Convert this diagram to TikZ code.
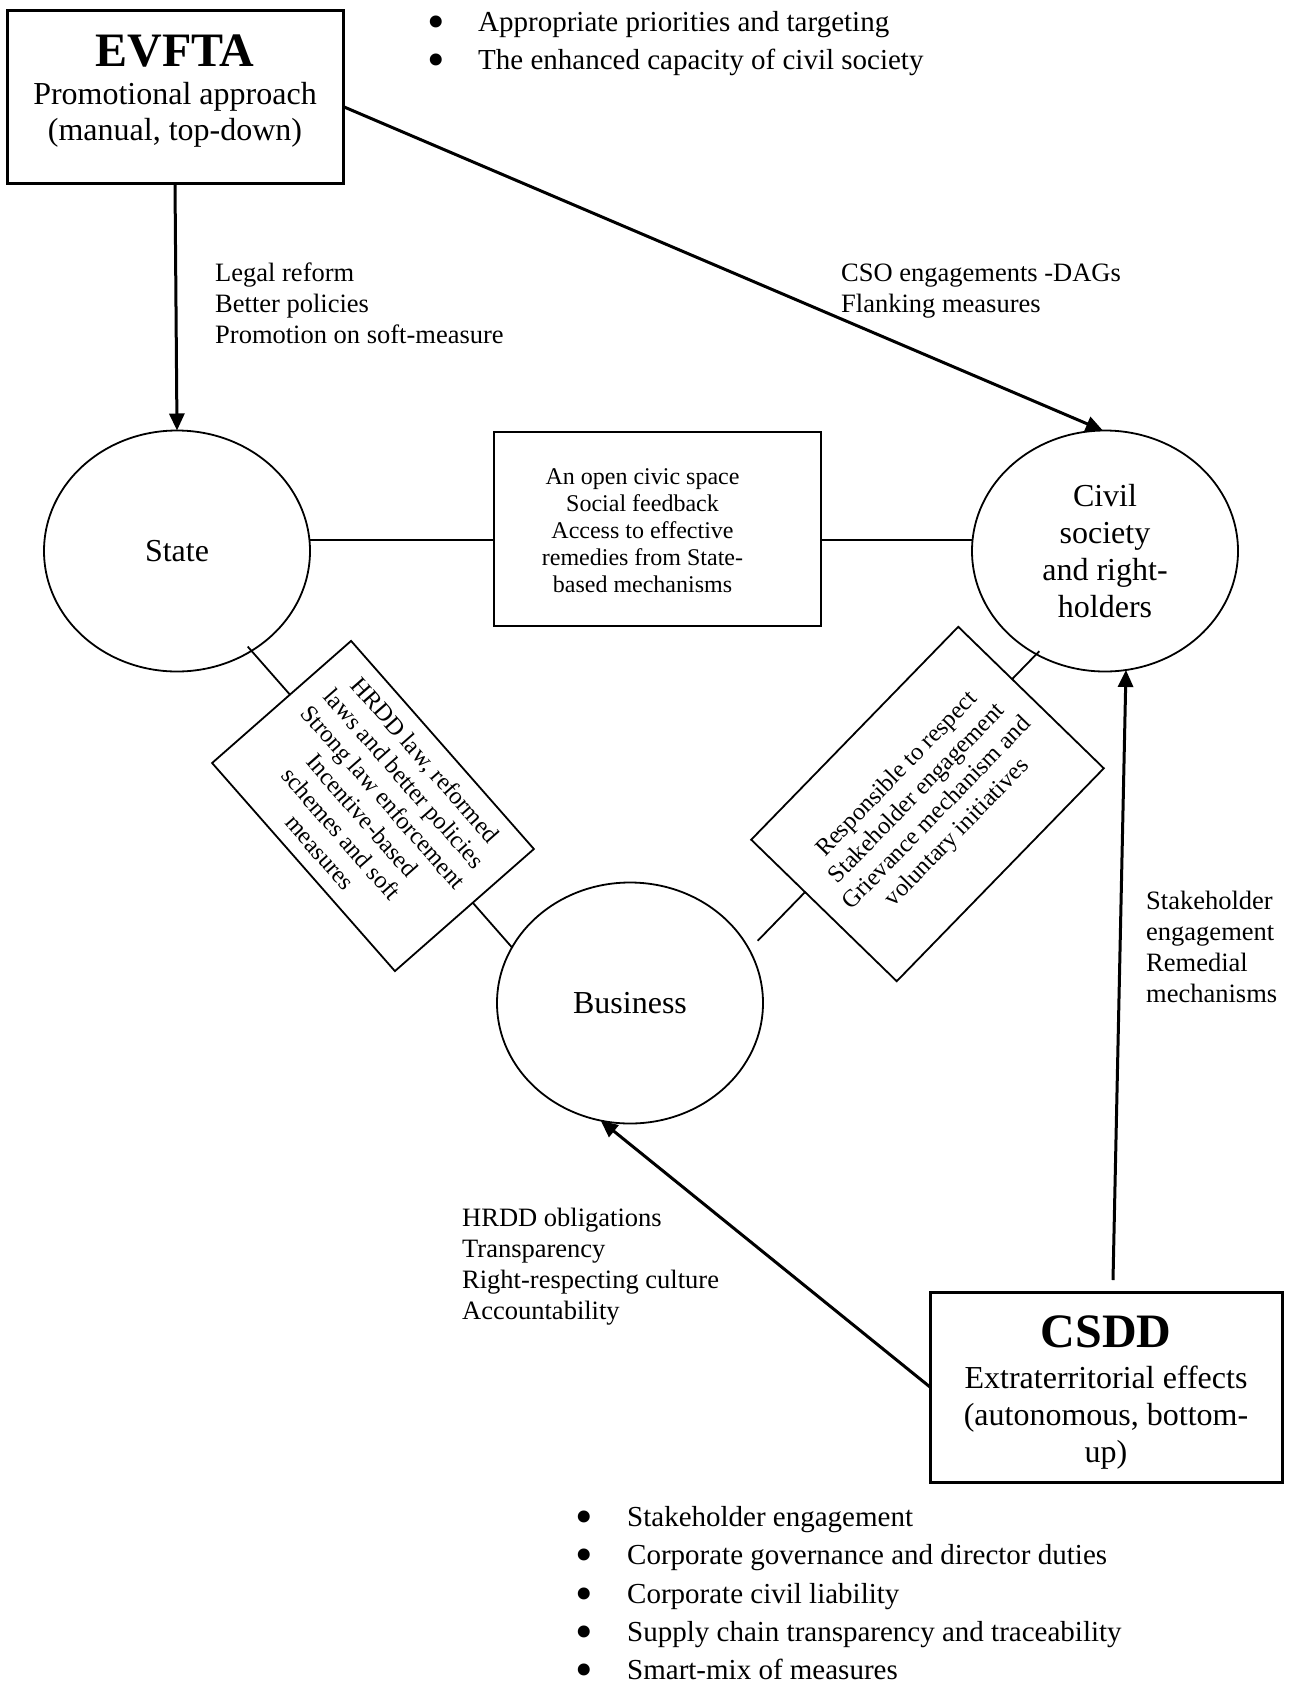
\documentclass[tikz,border=0pt]{standalone}
\usepackage{fontspec}
\setmainfont{Liberation Serif}
\usetikzlibrary{arrows.meta,calc,shapes.geometric}
\begin{document}
\begin{tikzpicture}[x=1pt,y=-1pt,
  thickbox/.style={draw, line width=3pt, rectangle, inner sep=0pt, outer sep=0pt},
  thinbox/.style={draw, line width=1.8pt, rectangle, inner sep=0pt, outer sep=0pt, align=center, fill=white},
  actor/.style={draw, line width=1.8pt, ellipse, minimum width=266pt, minimum height=241pt, inner sep=0pt, outer sep=0pt, align=center, font=\fontsize{32}{37}\selectfont},
  conn/.style={line width=1.8pt},
  arr/.style={line width=3pt, -{Triangle[length=17pt,width=15pt]}},
  lbl/.style={anchor=base west, inner sep=0pt, font=\fontsize{26.5}{31}\selectfont},
  ttl/.style={anchor=base, inner sep=0pt, font=\fontsize{48}{52}\selectfont\bfseries},
  sub/.style={anchor=base, inner sep=0pt, font=\fontsize{32}{37}\selectfont},
  bul/.style={anchor=base, inner sep=0pt, font=\fontsize{50}{50}\selectfont},
  bultxt/.style={anchor=base west, inner sep=0pt, font=\fontsize{29}{37}\selectfont},
  boxtxt/.style={font=\fontsize{24.4}{28}\selectfont}
]
\fill[white] (0,0) rectangle (1288,1684);
\useasboundingbox (0,0) rectangle (1288,1684);

% top box
\node[thickbox, minimum width=336pt, minimum height=173pt] (evfta) at (175,96.5) {};
\node[ttl] (evftaT) at (175,66) {EVFTA};
\node[sub] (evftaS1) at (175,104) {Promotional approach};
\node[sub] (evftaS2) at (175,140) {(manual, top-down)};

% bottom box
\node[thickbox, minimum width=352pt, minimum height=190pt] (csdd) at (1106,1387) {};
\node[ttl] (csddT) at (1106,1347) {CSDD};
\node[sub] (csddS1) at (1106,1388) {Extraterritorial effects};
\node[sub] (csddS2) at (1106,1425) {(autonomous, bottom-};
\node[sub] (csddS3) at (1106,1462) {up)};

% actors
\node[actor] (state) at (177,551) {State};
\node[actor] (civil) at (1105,551) {Civil\\society\\and right-\\holders};
\node[actor] (business) at (630,1003) {Business};

% relation boxes
\node[thinbox, minimum width=327pt, minimum height=194pt] (mid) at (657.5,529) {};
\node[inner sep=0pt, align=center, font=\fontsize{24}{27}\selectfont] (midtxt) at (642.5,531)
  {An open civic space\\Social feedback\\Access to effective\\remedies from State-\\based mechanisms};
\node[thinbox, rotate=-48.7, minimum width=277pt, minimum height=185pt, boxtxt] (lbox) at (373,806)
  {HRDD law, reformed\\laws and better policies\\Strong law enforcement\\Incentive-based\\schemes and soft\\measures};
\node[thinbox, rotate=45.8, minimum width=297pt, minimum height=203pt, boxtxt] (rbox) at (927.5,804)
  {Responsible to respect\\Stakeholder engagement\\Grievance mechanism and\\voluntary initiatives};

% plain connectors
\draw[conn] ($(state.east)+(0,-11)$) -- ($(mid.west |- state.east)+(0,-11)$);
\draw[conn] ($(mid.east |- civil.west)+(0,-11)$) -- ($(civil.west)+(0,-11)$);

\coordinate (lw) at ($(lbox.north west)!0.44!(lbox.south west)$);
\coordinate (le) at ($(lbox.north east)!0.44!(lbox.south east)$);
\draw[conn] (lw) -- ($(lw)!-64pt!(le)$);
\draw[conn] (le) -- ($(le)!-60pt!(lw)$);

\coordinate (rw) at ($(rbox.north west)!0.37!(rbox.south west)$);
\coordinate (re) at ($(rbox.north east)!0.37!(rbox.south east)$);
\draw[conn] (rw) -- ($(rw)!-68pt!(re)$);
\draw[conn] (re) -- ($(re)!-39pt!(rw)$);

% arrows
\draw[arr] (evfta.south) -- (state.north);
\draw[arr] ($(evfta.east)+(0,10)$) -- (civil.91);
\draw[arr] (csdd.west) -- (business.-104);
\draw[arr] ($(csdd.north)+(7,-12)$) -- (civil.-80);

% arrow labels
\node[lbl] (labA) at (215,281) {\begin{tabular}[t]{@{}l@{}}Legal reform\\Better policies\\Promotion on soft-measure\end{tabular}};
\node[lbl] (labB) at (841,281) {\begin{tabular}[t]{@{}l@{}}CSO engagements -DAGs\\Flanking measures\end{tabular}};
\node[lbl] (labC) at (1146,909) {\begin{tabular}[t]{@{}l@{}}Stakeholder\\engagement\\Remedial\\mechanisms\end{tabular}};
\node[lbl] (labD) at (462,1226) {\begin{tabular}[t]{@{}l@{}}HRDD obligations\\Transparency\\Right-respecting culture\\Accountability\end{tabular}};

% top bullets
\node[bul] (tb1) at (436,38) {\smash{•}};
\node[bultxt] (tt1) at (478,31) {Appropriate priorities and targeting};
\node[bul] (tb2) at (436,76) {\smash{•}};
\node[bultxt] (tt2) at (478,69) {The enhanced capacity of civil society};

% bottom bullets
\node[bul] (bb1) at (584,1533) {\smash{•}};
\node[bultxt] (bt1) at (627,1526) {Stakeholder engagement};
\node[bul] (bb2) at (584,1571) {\smash{•}};
\node[bultxt] (bt2) at (627,1564) {Corporate governance and director duties};
\node[bul] (bb3) at (584,1610) {\smash{•}};
\node[bultxt] (bt3) at (627,1603) {Corporate civil liability};
\node[bul] (bb4) at (584,1648) {\smash{•}};
\node[bultxt] (bt4) at (627,1641) {Supply chain transparency and traceability};
\node[bul] (bb5) at (584,1686) {\smash{•}};
\node[bultxt] (bt5) at (627,1679) {Smart-mix of measures};
\end{tikzpicture}
\end{document}
